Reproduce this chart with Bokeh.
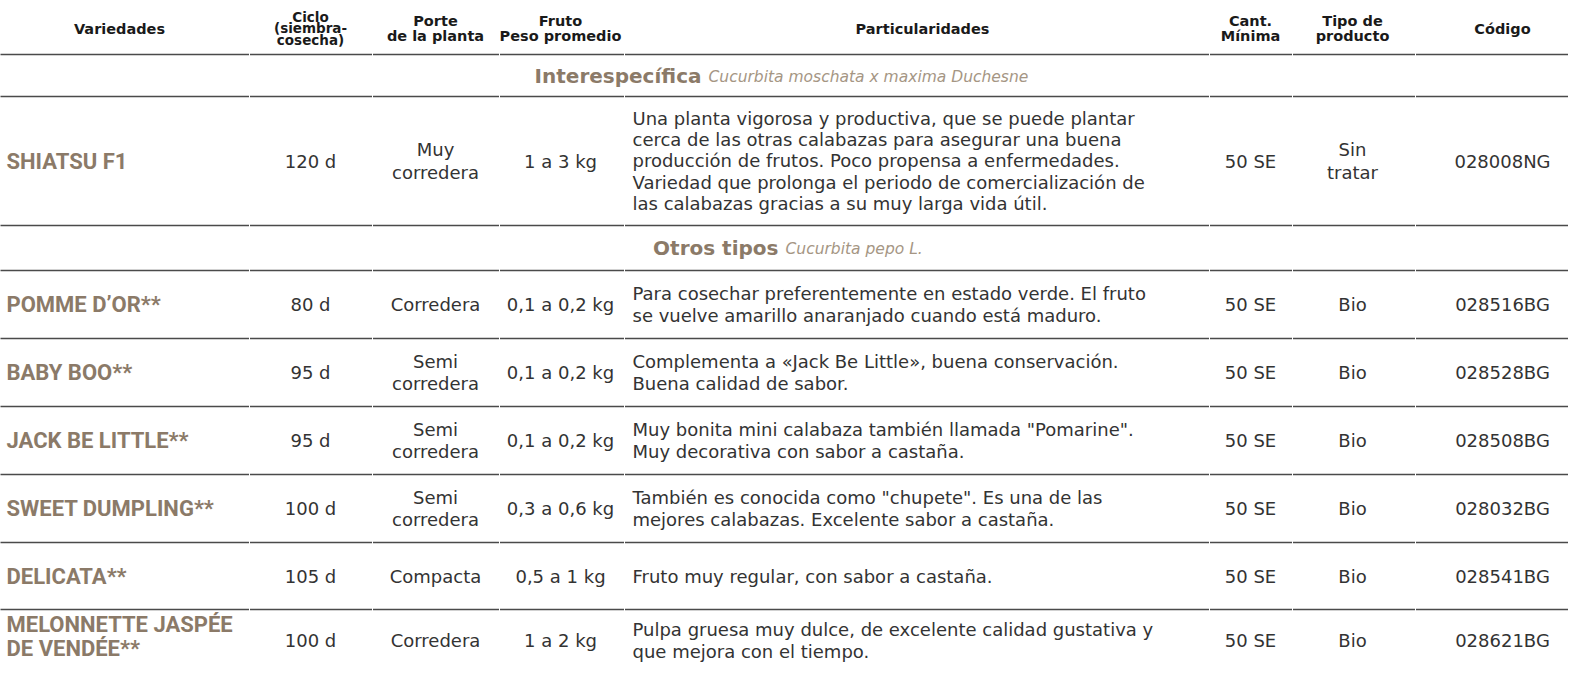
from bokeh.plotting import figure
from bokeh.models import Range1d
from bokeh.core.properties import value
from bokeh.embed import file_html
from bokeh.resources import INLINE

# ---------------- data ----------------
header_labels = ["Variedades", "Ciclo\n(siembra-\ncosecha)", "Porte\nde la planta",
                 "Fruto\nPeso promedio", "Particularidades", "Cant.\nMínima",
                 "Tipo de\nproducto", "Código"]

section_titles = ["Interespecífica", "Otros tipos"]
section_species = ["Cucurbita moschata x maxima Duchesne", "Cucurbita pepo L."]
section_of_row = [0, 1, 1, 1, 1, 1, 1]

varieties = ["SHIATSU F1", "POMME D’OR", "BABY BOO", "JACK BE LITTLE",
             "SWEET DUMPLING", "DELICATA", "MELONNETTE JASPÉE\nDE VENDÉE"]
marks = ["", "**", "**", "**", "**", "**", "**"]
ciclo = ["120 d", "80 d", "95 d", "95 d", "100 d", "105 d", "100 d"]
porte = ["Muy\ncorredera", "Corredera", "Semi\ncorredera", "Semi\ncorredera",
         "Semi\ncorredera", "Compacta", "Corredera"]
fruto = ["1 a 3 kg", "0,1 a 0,2 kg", "0,1 a 0,2 kg", "0,1 a 0,2 kg",
         "0,3 a 0,6 kg", "0,5 a 1 kg", "1 a 2 kg"]
particularidades = [
    "Una planta vigorosa y productiva, que se puede plantar\n"
    "cerca de las otras calabazas para asegurar una buena\n"
    "producción de frutos. Poco propensa a enfermedades.\n"
    "Variedad que prolonga el periodo de comercialización de\n"
    "las calabazas gracias a su muy larga vida útil.",
    "Para cosechar preferentemente en estado verde. El fruto\n"
    "se vuelve amarillo anaranjado cuando está maduro.",
    "Complementa a «Jack Be Little», buena conservación.\n"
    "Buena calidad de sabor.",
    "Muy bonita mini calabaza también llamada \"Pomarine\".\n"
    "Muy decorativa con sabor a castaña.",
    "También es conocida como \"chupete\". Es una de las\n"
    "mejores calabazas. Excelente sabor a castaña.",
    "Fruto muy regular, con sabor a castaña.",
    "Pulpa gruesa muy dulce, de excelente calidad gustativa y\n"
    "que mejora con el tiempo.",
]
cantidad = ["50 SE", "50 SE", "50 SE", "50 SE", "50 SE", "50 SE", "50 SE"]
tipo = ["Sin\ntratar", "Bio", "Bio", "Bio", "Bio", "Bio", "Bio"]
codigo = ["028008NG", "028516BG", "028528BG", "028508BG", "028032BG",
          "028541BG", "028621BG"]

# ---------------- layout (page pixels) ----------------
W, H = 1584, 678
col_bounds = [0, 257, 380, 507, 632, 1217, 1300, 1423, 1584]
col_centers = [127, 318, 443, 568, 930, 1258, 1360, 1510]
name_x = 14
part_x = 640
section_joins = [712, 789]
header_bottom = 62
band_heights = [42, 45]
row_heights = [129, 68, 68, 68, 68, 67, 62]

INK = "#333333"
HEAD = "#1a1a1a"
TAUPE = "#8b7a68"
TAUPE_LIGHT = "#a59684"
RULE = "#4a4a4a"

BODY_FONT = "DejaVu Sans"
NAME_FONT = "Roboto"
BODY = 18

p = figure(width=W - 16, height=H - 16, output_backend="svg", toolbar_location=None,
           x_range=Range1d(8, W - 8), y_range=Range1d(H - 8, 8),
           min_border=0, outline_line_color=None, background_fill_color="white")
p.axis.visible = False
p.grid.visible = False


def rule(y):
    x0 = [b + 0.5 for b in col_bounds[:-1]]
    x1 = [b - 0.5 for b in col_bounds[1:]]
    p.segment(x0=x0, x1=x1, y0=[y] * len(x0), y1=[y] * len(x0),
              line_color=RULE, line_width=1.6)


def txt(x, y, t, size, color=INK, font=BODY_FONT, style="normal", align="center",
        baseline="middle", lh=1.0):
    p.text(x=[x], y=[y], text=[t], text_font=value(font), text_font_size=f"{size}px",
           text_color=color, text_font_style=style, text_align=align,
           text_baseline=baseline, text_line_height=lh)


# header
for lbl, cx in zip(header_labels, col_centers):
    n = lbl.count("\n") + 1
    size = 13.5 if n == 3 else 14.5
    lh = 0.74 if n == 3 else 0.95
    txt(cx, 36, lbl, size, HEAD, BODY_FONT, "bold", lh=lh)
rule(header_bottom)

y = header_bottom
prev_section = None
for i in range(len(varieties)):
    sec = section_of_row[i]
    if sec != prev_section:
        bh = band_heights[sec]
        cy = y + bh / 2
        jx = section_joins[sec]
        txt(jx - 3, cy, section_titles[sec], 20, TAUPE, BODY_FONT, "bold", align="right")
        txt(jx + 4, cy + 1, section_species[sec], 15.5, TAUPE_LIGHT, BODY_FONT,
            "italic", align="left")
        y += bh
        rule(y)
        prev_section = sec
    rh = row_heights[i]
    cy = y + rh / 2
    name_lines = varieties[i].count("\n") + 1
    name_y = cy - 4 if name_lines > 1 else cy
    txt(name_x, name_y, varieties[i] + marks[i], 22, TAUPE, NAME_FONT, "bold",
        align="left", lh=0.95)
    txt(col_centers[1], cy, ciclo[i], BODY)
    txt(col_centers[2], cy, porte[i], BODY, lh=1.05)
    txt(col_centers[3], cy, fruto[i], BODY)
    txt(part_x, cy, particularidades[i], BODY, align="left", lh=1.02)
    txt(col_centers[5], cy, cantidad[i], BODY)
    txt(col_centers[6], cy, tipo[i], BODY, lh=1.05)
    txt(col_centers[7], cy, codigo[i], BODY)
    y += rh
    if i < len(varieties) - 1:
        rule(y)

open("out.html", "w").write(file_html(p, INLINE))
